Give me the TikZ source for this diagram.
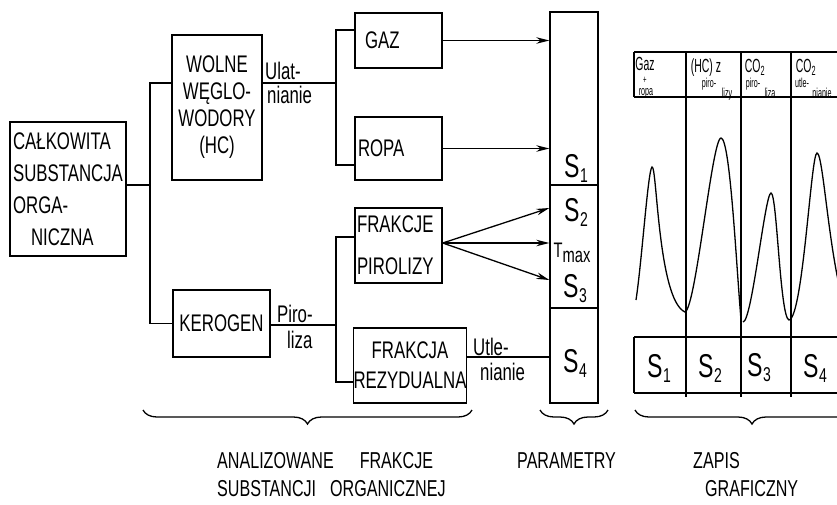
\documentclass[tikz,border=0pt]{standalone}
\usepackage{fontspec}
\setmainfont{Liberation Sans}[FakeStretch=0.7]
\newfontfamily\waski{Liberation Sans}[FakeStretch=0.55]
\usetikzlibrary{arrows.meta,calc,positioning,decorations.pathreplacing}
\newcommand{\Sn}[1]{S\kern0.5pt\raisebox{-5pt}{\fontsize{20}{20}\selectfont #1}}
\tikzset{
  blok/.style={draw,line width=1.4pt,inner sep=0pt,font=\fontsize{24}{30}\selectfont},
  lacz/.style={line width=1.3pt},
  strz/.style={line width=1.3pt,-{Stealth[length=13pt,width=6.5pt]}},
  opis/.style={font=\fontsize{24}{29}\selectfont,inner sep=0pt,anchor=base west},
  duzy/.style={font=\fontsize{33}{33}\selectfont,inner sep=0pt},
  klamra/.style={line width=1.3pt,decorate,decoration={brace,mirror,amplitude=14pt}},
  podpis/.style={font=\fontsize{23}{29}\selectfont,inner sep=0pt,anchor=base west},
  siatka/.style={line width=1.2pt},
  pik/.style={line width=1.3pt},
  nagl/.style={font=\waski\fontsize{19}{19}\selectfont,inner sep=0pt,anchor=base},
  naglm/.style={font=\waski\fontsize{13}{13}\selectfont,inner sep=0pt,anchor=base},
}
\begin{document}
\begin{tikzpicture}[x=1pt,y=-1pt]
  \useasboundingbox (0,0) rectangle (837,504);
  \clip (0,0) rectangle (837,504);
  % bloki
  \node[blok,minimum width=116pt,minimum height=134pt,align=left,font=\fontsize{24}{32}\selectfont] (calk) at (68,189) {CAŁKOWITA\\SUBSTANCJA\\ORGA-\\\hspace*{18pt}NICZNA};
  \node[blok,minimum width=90pt,minimum height=145pt,align=center,font=\fontsize{24}{27}\selectfont] (wolne) at (217,107.5) {WOLNE\\WĘGLO-\\WODORY\\(HC)};
  \node[blok,minimum width=97pt,minimum height=67pt] (kerogen) at (221.5,323.5) {KEROGEN};
  \node[blok,minimum height=55pt,text width=67pt,align=left,inner xsep=10pt] (gaz) at (398.5,40.5) {GAZ};
  \node[blok,minimum height=63pt,text width=81pt,align=left,inner xsep=3pt] (ropa) at (398.5,148.5) {ROPA};
  \node[blok,minimum height=75pt,text width=83pt,align=left,inner xsep=2pt] (frakcje) at (398.5,245.5) {FRAKCJE\\[12pt]PIROLIZY};
  \node[blok,minimum width=110pt,minimum height=75pt,align=center] (rezyd) at (410,365.5) {FRAKCJA\\REZYDUALNA};
  % parametry
  \node[blok,minimum width=48pt,minimum height=173pt] (s1) at (574,98.5) {};
  \node[blok,minimum width=48pt,minimum height=123pt] (s23) at (574,246.5) {};
  \node[blok,minimum width=48pt,minimum height=95pt] (s4) at (574,355.5) {};
  \node[duzy] (s1lab) at (576,168) {\Sn{1}};
  \node[duzy] (s2lab) at (576,212) {\Sn{2}};
  \node[font=\fontsize{21}{21}\selectfont,inner sep=0pt] (tmax) at (572,253) {T\raisebox{-5pt}{max}};
  \node[duzy] (s3lab) at (575,289) {\Sn{3}};
  \node[duzy] (s4lab) at (575,363) {\Sn{4}};
  % polaczenia
  \coordinate (r1) at (150,185);
  \draw[lacz] (calk.east |- r1) -- (r1);
  \draw[lacz] ([yshift=24.5pt]wolne.west) -| (r1) |- (kerogen.west);
  \coordinate (r2) at (336,83);
  \draw[lacz] ([yshift=24.5pt]wolne.east) -- (r2);
  \draw[lacz] ([yshift=10.5pt]gaz.west) -| (r2) |- ([yshift=-16.5pt]ropa.west);
  \coordinate (r3) at (336,325);
  \draw[lacz] (kerogen.east |- r3) -- (r3);
  \draw[lacz] ([yshift=8.5pt]frakcje.west) -| (r3) |- ([yshift=-16.5pt]rezyd.west);
  \node[opis] (ulat) at (265,79) {Ulat-};
  \node[opis] (nian1) at (267,103) {nianie};
  \node[opis] (piro) at (277,322) {Piro-};
  \node[opis] (liza) at (287,348) {liza};
  \node[opis] (utle) at (473,355) {Utle-};
  \node[opis] (nian2) at (480,380) {nianie};
  % strzalki
  \draw[strz] (gaz.east) -- (s1.west |- gaz.east);
  \draw[strz] (ropa.east) -- (s1.west |- ropa.east);
  \coordinate (fp) at ([yshift=2.5pt]frakcje.east);
  \draw[strz] (fp) -- ([yshift=38.5pt]s23.west);
  \draw[strz] (fp) -- ([yshift=3.5pt]s23.west);
  \draw[strz] (fp) -- ([yshift=-33.5pt]s23.west);
  \coordinate (rz) at ([yshift=8.5pt]rezyd.east);
  \draw[lacz] (rz) -- (s4.west |- rz);
  % zapis graficzny
  \draw[siatka] (634,52) -- (837,52) (634,97) -- (837,97) (634,52) -- (634,97);
  \foreach \x in {686,741,791} \draw[siatka] (\x,52) -- (\x,397);
  \draw[siatka] (634,337) -- (837,337) (634,393) -- (837,393) (634,337) -- (634,393);
  \node[nagl] (h1a) at (645,70) {Gaz};
  \node[naglm,font=\waski\fontsize{11}{11}\selectfont] (h1b) at (645,83) {+};
  \node[naglm] (h1c) at (646,95) {ropa};
  \node[nagl] (h2a) at (706,72) {(HC) z};
  \node[naglm] (h2b) at (709,87) {piro-};
  \node[naglm] (h2c) at (727,97) {lizy};
  \node[nagl] (h3a) at (755,72) {CO\textsubscript{2}};
  \node[naglm] (h3b) at (753,87) {piro-};
  \node[naglm] (h3c) at (770,97) {liza};
  \node[nagl] (h4a) at (806,72) {CO\textsubscript{2}};
  \node[naglm] (h4b) at (802,87) {utle-};
  \node[naglm] (h4c) at (822,97) {nianie};
  \draw[pik] (636,300) .. controls (642,260) and (648,170) .. (652,167)
    .. controls (657,165) and (658,300) .. (685,312)
    .. controls (696,308) and (712,138) .. (721,138)
    .. controls (730,138) and (736,260) .. (741,320);
  \draw[pik] (743,322) .. controls (752,322) and (765,193) .. (771,193)
    .. controls (777,193) and (780,318) .. (789,320)
    .. controls (803,318) and (811,153) .. (817,153)
    .. controls (824,153) and (830,280) .. (850,320);
  \node[duzy] (t1) at (659,368) {\Sn{1}};
  \node[duzy] (t2) at (710,368) {\Sn{2}};
  \node[duzy] (t3) at (759,368) {\Sn{3}};
  \node[duzy] (t4) at (815,368) {\Sn{4}};
  % klamry i podpisy
  \draw[klamra] (143,410) -- (472,410);
  \draw[klamra] (540,410) -- (608,410);
  \draw[klamra] (635,410) -- (869,410);
  \node[podpis] (an1) at (217,468) {ANALIZOWANE\hspace{26pt}FRAKCJE};
  \node[podpis] (an2) at (217,496) {SUBSTANCJI\hspace{14pt}ORGANICZNEJ};
  \node[podpis] (param) at (517,468) {PARAMETRY};
  \node[podpis] (zap1) at (693,468) {ZAPIS};
  \node[podpis] (zap2) at (705,496) {GRAFICZNY};
\end{tikzpicture}
\end{document}
